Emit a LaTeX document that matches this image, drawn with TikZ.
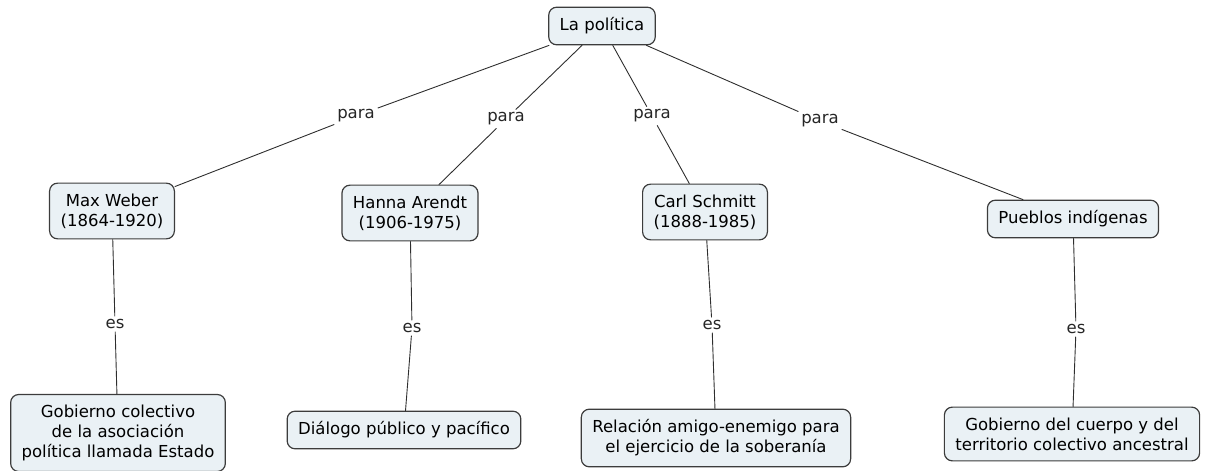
\documentclass[tikz,border=0pt]{standalone}
\usepackage{fontspec}
\setmainfont{DejaVu Sans}
\definecolor{boxfill}{HTML}{EAF1F5}
\definecolor{boxline}{HTML}{3C3C3C}
\definecolor{linkline}{HTML}{2E2E2E}
\begin{document}
\begin{tikzpicture}[x=1pt, y=-1pt, font=\fontsize{16.5}{20}\selectfont, line join=round,
    line cap=round,
    concept/.style={draw=boxline, fill=boxfill, rounded corners=8pt, line width=1.2pt,
        align=center, inner xsep=11pt, inner ysep=10.5pt},
    link/.style={inner sep=3pt, text=black!85}]
    \useasboundingbox (0,0) rectangle (1211,471);
    
    % conceptos
    \node[concept] (pol) at (602,26) {La política};
    \node[concept] (weber) at (112,211) {Max Weber\\(1864-1920)};
    \node[concept] (arendt) at (410,213) {Hanna Arendt\\(1906-1975)};
    \node[concept] (schmitt) at (705,212) {Carl Schmitt\\(1888-1985)};
    \node[concept] (pueblos) at (1073,219) {Pueblos indígenas};
    \node[concept] (gobest) at (118,433) {Gobierno colectivo\\de la asociación\\política llamada Estado};
    \node[concept] (dialogo) at (404,430) {Diálogo público y pacífico};
    \node[concept] (relacion) at (716,438) {Relación amigo-enemigo para\\el ejercicio de la soberanía};
    \node[concept] (gobanc) at (1072,434) {Gobierno del cuerpo y del\\territorio colectivo ancestral};
    
    % enlaces
    \node[link] (para1) at (356,116) {para};
    \node[link] (para2) at (506,119) {para};
    \node[link] (para3) at (652,116) {para};
    \node[link] (para4) at (820,121) {para};
    \node[link] (es1) at (115,324) {es};
    \node[link] (es2) at (412,328) {es};
    \node[link] (es3) at (712,325) {es};
    \node[link] (es4) at (1076,329) {es};
    
    \foreach \a/\l/\b in {pol/para1/weber, pol/para2/arendt, pol/para3/schmitt,
        pol/para4/pueblos, weber/es1/gobest, arendt/es2/dialogo,
        schmitt/es3/relacion, pueblos/es4/gobanc}
    \draw[linkline, line width=0.9pt] (\a) -- (\l) -- (\b);
\end{tikzpicture}
\end{document}
